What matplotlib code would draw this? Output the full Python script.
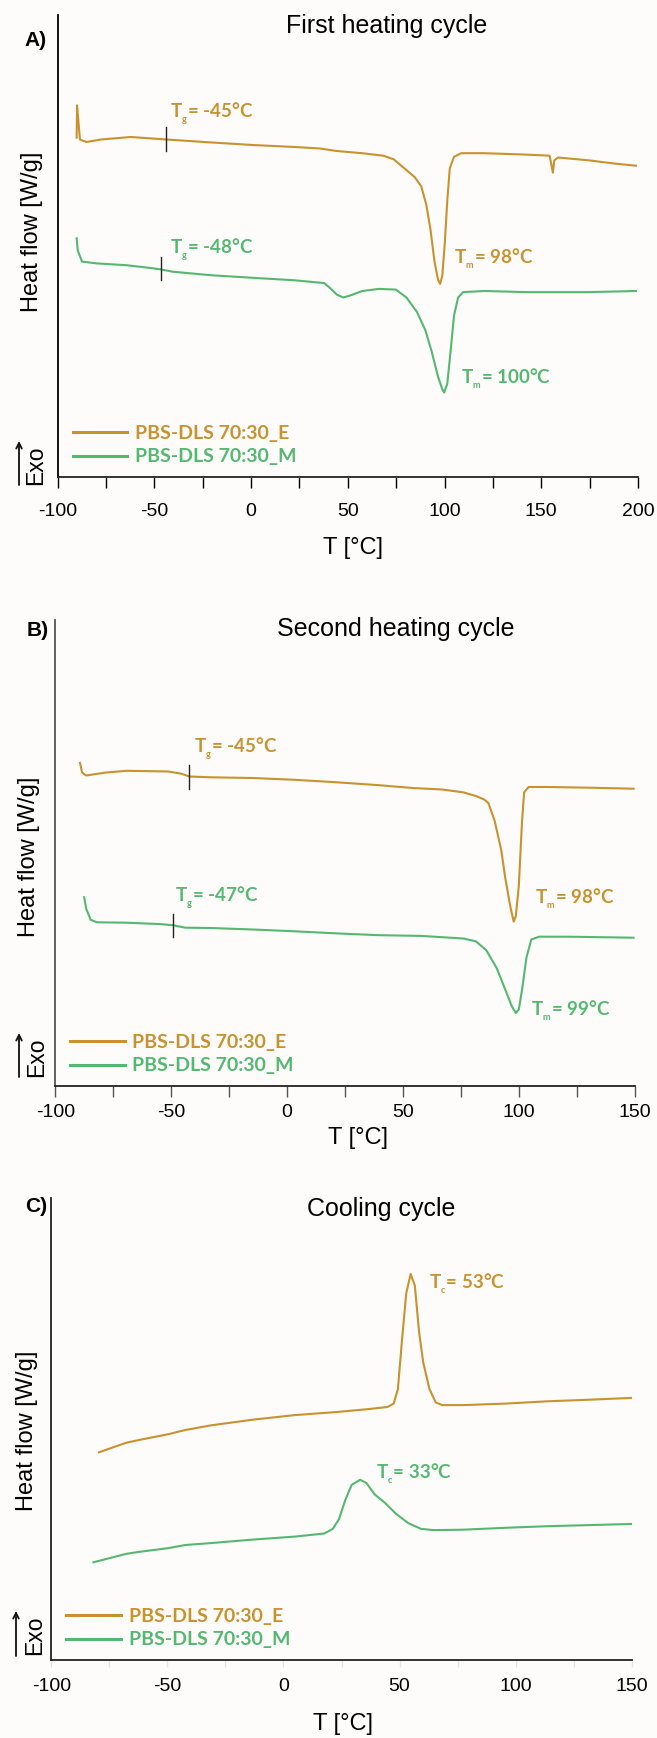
import matplotlib.pyplot as plt
from matplotlib.ticker import MultipleLocator

plt.rcParams['axes.unicode_minus'] = False
plt.rcParams['mathtext.default'] = 'regular'

# ---------------------------
# Data (heat flow in arbitrary units, exo up)
# ---------------------------
# A) first heating
a_e_T = [-90.2, -90.0, -88.5, -85.2, -77.6, -62.3, -43.8, -21.0, 0.8, 22.6, 35.6, 44.3, 57.4,
         68.3, 73.7, 79.2, 84.6, 87.9, 90.5, 92.7, 94.8, 96.6, 97.7, 98.8, 100.1, 101.4, 102.7,
         104.9, 108.6, 120.5, 142.3, 154.3, 155.4, 156.0, 156.7, 158.6, 174.9, 188.0, 198.9]
a_e_hf = [339.3, 371.6, 337.5, 335.0, 337.5, 340.0, 337.5, 334.6, 332.0, 330.0, 328.5, 326.0, 323.8,
          321.3, 317.7, 308.7, 299.8, 290.8, 272.8, 247.7, 215.4, 197.5, 193.1, 201.0, 233.4, 276.4,
          308.7, 320.2, 323.8, 323.8, 322.4, 321.3, 310.5, 304.4, 316.6, 319.5, 316.6, 313.4, 311.3]
a_m_T = [-90.2, -89.6, -87.4, -79.8, -64.5, -51.5, -46.4, -40.6, -21.0, 0.8, 22.6, 37.8, 41.1,
         44.3, 47.6, 50.9, 57.4, 66.1, 74.8, 80.3, 85.7, 90.0, 93.3, 96.6, 98.8, 99.8, 101.4,
         103.1, 104.9, 107.0, 109.6, 120.5, 142.3, 174.9, 198.9]
a_m_hf = [238.7, 226.2, 215.4, 213.6, 211.8, 208.9, 207.5, 205.3, 201.8, 199.2, 196.7, 193.9, 188.5,
          182.4, 179.5, 181.3, 186.0, 188.1, 187.4, 179.5, 165.1, 147.2, 125.7, 100.5, 88.0, 84.4,
          93.3, 125.7, 161.6, 179.5, 184.9, 186.0, 184.9, 184.9, 186.0]

# B) second heating
b_e_T = [-89.3, -88.4, -86.6, -78.4, -69.3, -51.2, -45.7, -42.1, -33.0, -14.9, 3.3, 21.5, 39.6,
         54.1, 66.8, 75.9, 81.4, 85.0, 86.8, 89.5, 92.3, 94.1, 96.3, 97.7, 98.6, 99.9, 101.3,
         102.2, 104.1, 112.2, 130.4, 149.4]
b_e_hf = [323.1, 313.4, 310.5, 313.4, 315.2, 314.5, 312.3, 309.5, 308.7, 308.0, 306.2, 303.7, 300.8,
          298.0, 296.5, 293.7, 290.0, 286.5, 282.9, 265.0, 236.2, 207.5, 178.8, 164.4, 169.8, 200.3,
          265.0, 293.7, 299.0, 299.0, 298.3, 297.3]
b_m_T = [-87.5, -86.6, -84.7, -82.0, -69.3, -54.8, -49.3, -43.9, -33.0, -14.9, 3.3, 21.5, 39.6,
         57.8, 75.9, 81.4, 85.9, 90.4, 94.1, 96.8, 98.6, 99.9, 101.3, 103.2, 105.3, 108.6, 121.3, 149.4]
b_m_hf = [188.8, 177.0, 166.2, 163.7, 163.3, 161.9, 160.8, 158.3, 158.0, 156.5, 154.7, 152.6, 150.8,
          150.1, 147.5, 144.7, 135.7, 117.8, 96.2, 80.1, 72.9, 76.5, 96.2, 128.5, 146.5, 149.3, 149.3, 148.3]

# C) cooling
c_e_T = [-79.5, -67.7, -62.3, -49.6, -42.3, -31.4, -13.3, 4.9, 23.0, 35.7, 44.8, 47.5, 49.3, 51.1,
         52.9, 54.8, 56.6, 58.4, 60.2, 62.9, 65.6, 68.4, 77.4, 95.6, 113.7, 131.9, 150.9]
c_e_hf = [207.7, 217.3, 220.0, 225.8, 230.0, 234.6, 240.3, 244.9, 248.0, 250.7, 253.0, 256.4, 271.0,
          320.8, 366.8, 386.0, 374.5, 328.5, 297.8, 271.0, 257.6, 254.9, 254.9, 256.4, 258.7, 260.3, 262.2]
c_m_T = [-81.9, -67.7, -62.3, -49.6, -42.3, -31.4, -13.3, 4.9, 17.6, 21.2, 23.9, 26.6, 29.4, 33.0,
         35.7, 39.3, 43.9, 48.4, 53.8, 59.3, 64.7, 77.4, 95.6, 113.7, 131.9, 150.9]
c_m_hf = [97.7, 106.2, 108.1, 111.9, 115.0, 116.9, 120.4, 123.4, 126.5, 131.1, 140.7, 159.8, 175.2,
          180.2, 177.1, 165.6, 156.8, 146.4, 136.8, 131.1, 129.9, 130.3, 132.2, 133.8, 134.9, 136.1]

series_names = ['PBS-DLS 70:30_E', 'PBS-DLS 70:30_M']
orange = '#C8922F'
green = '#55B870'

W, H = 657, 1738

def fx(x):
    return x / W

def fy(y):
    return 1 - y / H

fig = plt.figure(figsize=(W / 100, H / 100), dpi=100, facecolor='#fdfcfb')

# panel boxes in pixels: left, right, top, bottom
panels = [
    dict(box=(57.7, 638, 15, 477), xlim=(-100, 200), xticks=[-100, -50, 0, 50, 100, 150, 200],
         curves=[(a_e_T, a_e_hf), (a_m_T, a_m_hf)], title='First heating cycle', letter='A)',
         title_pos=(387, 26), letter_pos=(36, 41), ylab_pos=(31.6, 232), xlab_pos=(353, 548),
         exo_x=(19, 36), exo_y=(441, 485), pad=11, spine='k', tickc='k',
         tg=[(-43.8, 326, 350), (-46.4, 197, 220)],
         notes=[('T$_{{}_{g}}$= -45°C', -41.7, 363, 0), ('T$_{{}_{g}}$= -48°C', -41.7, 227, 1),
                ('T$_{{}_{m}}$= 98°C', 104.9, 218, 0), ('T$_{{}_{m}}$= 100°C', 108.6, 98, 1)]),
    dict(box=(55.2, 635, 620, 1086), xlim=(-100, 150), xticks=[-100, -50, 0, 50, 100, 150],
         curves=[(b_e_T, b_e_hf), (b_m_T, b_m_hf)], title='Second heating cycle', letter='B)',
         title_pos=(396, 629), letter_pos=(38, 631), ylab_pos=(29.5, 857), xlab_pos=(358, 1138),
         exo_x=(19, 37), exo_y=(1033, 1077), pad=5, spine='#555555', tickc='#555555',
         tg=[(-42.1, 297, 321), (-49.3, 149, 172)],
         notes=[('T$_{{}_{g}}$= -45°C', -40.3, 337, 0), ('T$_{{}_{g}}$= -47°C', -48.4, 188, 1),
                ('T$_{{}_{m}}$= 98°C', 106.8, 187, 0), ('T$_{{}_{m}}$= 99°C', 105.3, 75, 1)]),
    dict(box=(51.4, 631.6, 1198, 1660), xlim=(-100, 150), xticks=[-100, -50, 0, 50, 100, 150],
         curves=[(c_e_T, c_e_hf), (c_m_T, c_m_hf)], title='Cooling cycle', letter='C)',
         title_pos=(381, 1209), letter_pos=(36, 1207), ylab_pos=(27.4, 1431), xlab_pos=(343, 1724),
         exo_x=(16, 34.5), exo_y=(1611, 1656), pad=8, spine='#222222', tickc='#e4e4e4',
         tg=[],
         notes=[('T$_{{}_{c}}$= 53°C', 62.6, 376, 0), ('T$_{{}_{c}}$= 33°C', 39.9, 186, 1)]),
]

colors = [orange, green]

for p in panels:
    l, r, t, b = p['box']
    ax = fig.add_axes([fx(l), fy(b), (r - l) / W, (b - t) / H])
    ax.set_facecolor('none')
    for (T, hf), c, name in zip(p['curves'], colors, series_names):
        ax.plot(T, hf, color=c, lw=1.5, label=name)
    ax.set_xlim(*p['xlim'])
    ax.set_ylim(0, b - t)
    ax.set_yticks([])
    ax.set_xticks(p['xticks'])
    ax.set_xticklabels([str(v) for v in p['xticks']], fontsize=14, family='Liberation Sans')
    ax.xaxis.set_minor_locator(MultipleLocator(25))
    ax.tick_params(axis='x', which='both', direction='out', length=8, width=1.0,
                   color=p['tickc'], pad=p['pad'])
    for s in ['top', 'right']:
        ax.spines[s].set_visible(False)
    ax.spines['left'].set_color(p['spine'])
    ax.spines['bottom'].set_color('#222222')
    ax.spines['left'].set_linewidth(1.3)
    ax.spines['bottom'].set_linewidth(1.3)
    if p['letter'] == 'C)':
        ax.tick_params(axis='x', which='both', length=5)
        for tk in ax.xaxis.get_minor_ticks():
            if abs(tk.get_loc() - 125) < 1e-6:
                tk.tick1line.set_color('#222222')

    # Tg marks
    for xt, y0, y1 in p['tg']:
        ax.plot([xt, xt], [y0, y1], color='#222222', lw=1.0)

    # annotations
    for txt, x, y, ci in p['notes']:
        ax.text(x, y, txt, color=colors[ci], fontsize=13.5, fontweight='bold', family='Lato',
                ha='left', va='center')

    leg = ax.legend(loc='lower left', bbox_to_anchor=(0.026, 0.025), frameon=False,
                    handlelength=2.8, handletextpad=0.4, labelspacing=0.35, borderaxespad=0,
                    borderpad=0, prop=dict(family='Lato', weight='bold', size=14))
    for txt, c in zip(leg.get_texts(), colors):
        txt.set_color(c)
    for ln in leg.get_lines():
        ln.set_linewidth(2.2)

    fig.text(fx(p['title_pos'][0]), fy(p['title_pos'][1]), p['title'], fontsize=18,
             family='Liberation Sans', ha='center', va='center')
    fig.text(fx(p['letter_pos'][0]), fy(p['letter_pos'][1]), p['letter'], fontsize=15,
             fontweight='bold', family='Liberation Sans', ha='center', va='center')
    fig.text(fx(p['ylab_pos'][0]), fy(p['ylab_pos'][1]), 'Heat flow [W/g]', fontsize=17,
             family='Liberation Sans', rotation=90, ha='center', va='center')
    fig.text(fx(p['xlab_pos'][0]), fy(p['xlab_pos'][1]), 'T [°C]', fontsize=17,
             family='Liberation Sans', ha='center', va='center')
    ex, tx = p['exo_x']
    y_top, y_bot = p['exo_y']
    fig.text(fx(tx), fy((y_top + y_bot) / 2 + 2), 'Exo', fontsize=16.5, family='Liberation Sans',
             rotation=90, ha='center', va='center')
    ax.annotate('', xy=(fx(ex), fy(y_top)), xytext=(fx(ex), fy(y_bot)),
                xycoords='figure fraction', textcoords='figure fraction',
                arrowprops=dict(arrowstyle='->', lw=1.3, color='#111111',
                                shrinkA=0, shrinkB=0, mutation_scale=10))

fig.savefig('out.png', dpi=100, facecolor=fig.get_facecolor())
